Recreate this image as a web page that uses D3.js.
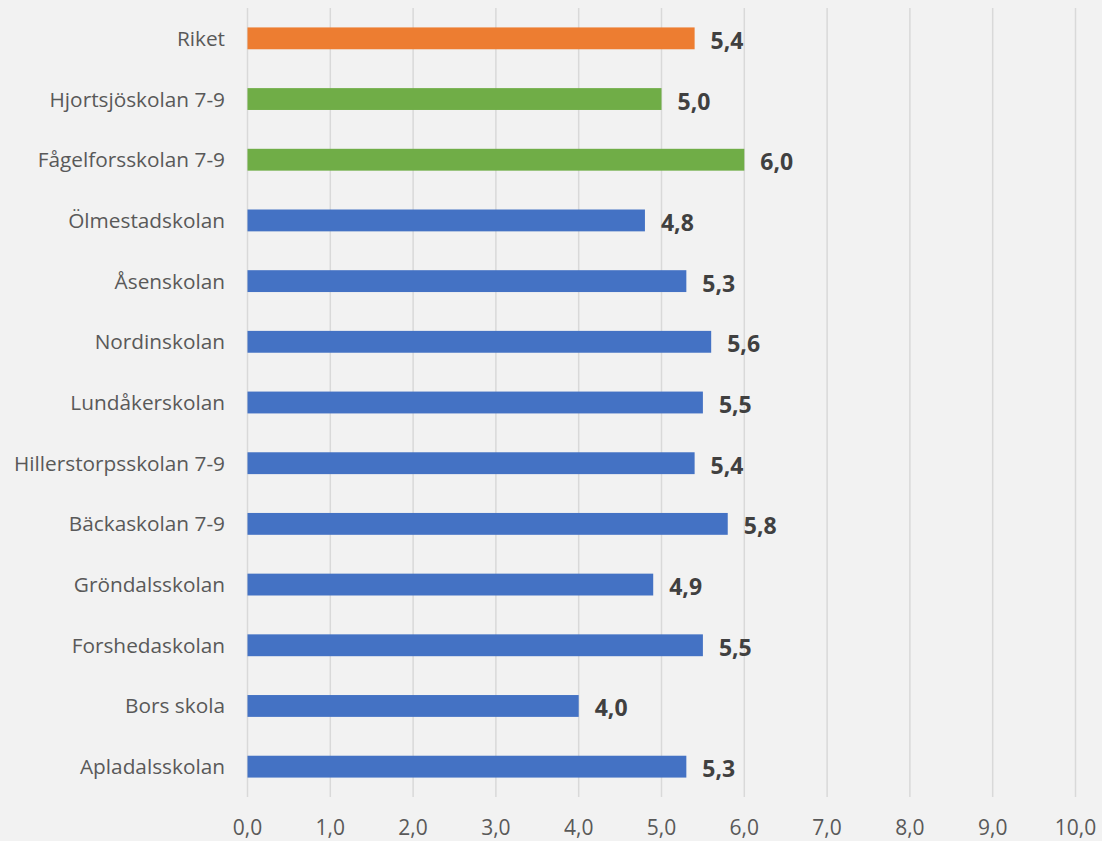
<!DOCTYPE html>
<html><head><meta charset="utf-8">
<script src="https://cdn.jsdelivr.net/npm/d3@7"></script>
<style>body{margin:0;background:#f2f2f2;} svg{display:block;}</style>
</head><body>
<svg id="c" width="1102" height="841"></svg>
<script>
const categories = ["Riket","Hjortsjöskolan 7-9","Fågelforsskolan 7-9","Ölmestadskolan","Åsenskolan","Nordinskolan","Lundåkerskolan","Hillerstorpsskolan 7-9","Bäckaskolan 7-9","Gröndalsskolan","Forshedaskolan","Bors skola","Apladalsskolan"];
const values = [5.4,5.0,6.0,4.8,5.3,5.6,5.5,5.4,5.8,4.9,5.5,4.0,5.3];
const groups = ["riket","kommun","kommun","skola","skola","skola","skola","skola","skola","skola","skola","skola","skola"];
const tickValues = [0,1,2,3,4,5,6,7,8,9,10];
const colors = {riket:"#ED7D31", kommun:"#70AD47", skola:"#4472C4"};

const svg = d3.select("#c");
svg.append("rect").attr("width",1102).attr("height",841).attr("fill","#f2f2f2");
const pLeft=247.5, pRight=1075.5, pTop=8, pBottom=797;
const x = d3.scaleLinear().domain([0,10]).range([pLeft,pRight]);
const y = d3.scaleBand().domain(categories).range([pTop,pBottom]).paddingInner(0.64).paddingOuter(0.32);
const fmt = v => d3.format(".1f")(v).replace(".",",");

svg.append("g").selectAll("line").data(tickValues).join("line")
  .attr("x1",d=>x(d)).attr("x2",d=>x(d)).attr("y1",pTop).attr("y2",pBottom)
  .attr("stroke","#d9d9d9").attr("stroke-width",1.5);

svg.append("g").selectAll("text").data(tickValues).join("text")
  .attr("x",d=>x(d)).attr("y",835).attr("text-anchor","middle")
  .attr("font-family","Open Sans").attr("font-size",21).attr("fill","#595959")
  .text(d=>fmt(d));

svg.append("g").selectAll("rect").data(values).join("rect")
  .attr("x",x(0)).attr("y",(d,i)=>y(categories[i]))
  .attr("width",d=>x(d)-x(0)).attr("height",y.bandwidth())
  .attr("fill",(d,i)=>colors[groups[i]]);

svg.append("g").selectAll("text").data(categories).join("text")
  .attr("x",225).attr("y",d=>y(d)+y.bandwidth()/2+7.5).attr("text-anchor","end")
  .attr("font-family","Open Sans").attr("font-size",20.8).attr("fill","#595959")
  .text(d=>d);

svg.append("g").selectAll("text").data(values).join("text")
  .attr("x",d=>x(d)+16).attr("y",(d,i)=>y(categories[i])+y.bandwidth()/2+10.5)
  .attr("font-family","Open Sans").attr("font-weight","bold").attr("font-size",23).attr("fill","#404040")
  .text(d=>fmt(d));
</script>
</body></html>
